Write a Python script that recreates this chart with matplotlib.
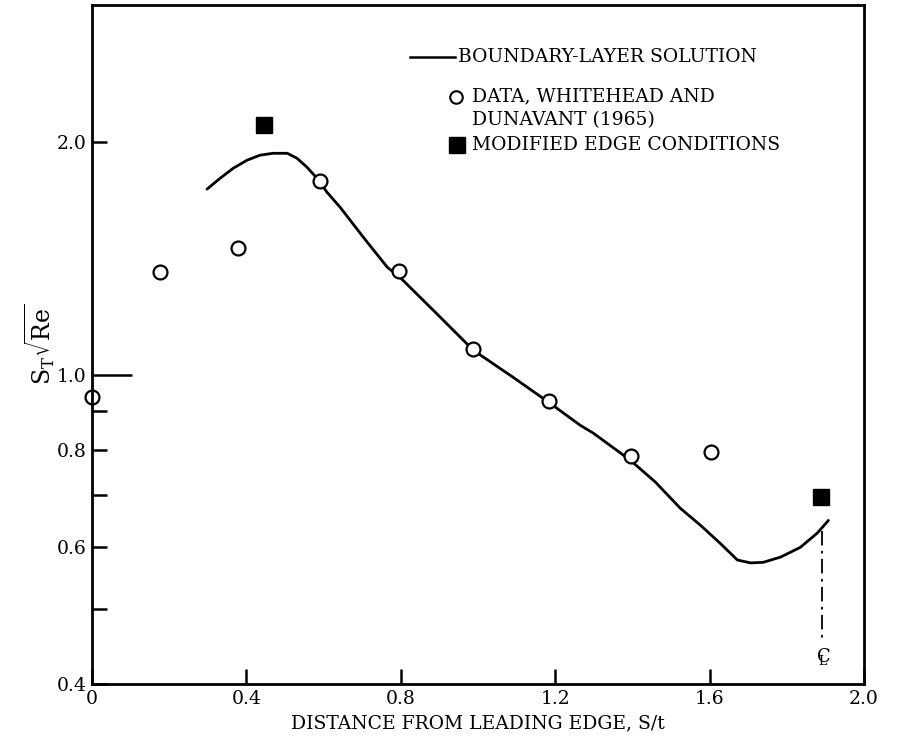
import numpy as np
import matplotlib
matplotlib.use("Agg")
import matplotlib.pyplot as plt

plt.rcParams["font.family"] = ["DejaVu Serif"]
plt.rcParams["mathtext.fontset"] = "dejavuserif"

# boundary-layer solution
curve_x = [0.298, 0.332, 0.366, 0.402, 0.435, 0.469, 0.506, 0.531, 0.557, 0.583,
           0.609, 0.643, 0.703, 0.765, 0.798, 0.884, 0.988, 1.091, 1.187, 1.265,
           1.299, 1.395, 1.460, 1.524, 1.576, 1.628, 1.672, 1.706, 1.739, 1.784,
           1.835, 1.879, 1.908]
curve_y = [1.737, 1.794, 1.848, 1.893, 1.921, 1.932, 1.932, 1.904, 1.854, 1.794,
           1.721, 1.646, 1.506, 1.378, 1.337, 1.213, 1.077, 0.994, 0.920, 0.862,
           0.842, 0.777, 0.728, 0.674, 0.641, 0.607, 0.578, 0.573, 0.574, 0.583,
           0.600, 0.626, 0.650]

# data, Whitehead and Dunavant (1965)
data_x = [0.0, 0.176, 0.379, 0.591, 0.796, 0.988, 1.185, 1.396, 1.603]
data_y = [0.937, 1.358, 1.458, 1.778, 1.362, 1.080, 0.926, 0.786, 0.796]

# modified edge conditions
mod_x = [0.446, 1.888]
mod_y = [2.10, 0.696]

cl_x = 1.890
y_ticks = [0.4, 0.5, 0.6, 0.7, 0.8, 0.9, 1.0, 2.0]
y_labels = ["0.4", "", "0.6", "", "0.8", "", "1.0", "2.0"]
x_ticks = [0, 0.4, 0.8, 1.2, 1.6, 2.0]
x_labels = ["0", "0.4", "0.8", "1.2", "1.6", "2.0"]

fs = 13.5

fig = plt.figure(figsize=(8.98, 7.44), dpi=100)
ax = fig.add_axes([0.1024, 0.0806, 0.8597, 0.9127])

ax.plot(curve_x, curve_y, color="black", lw=2.0, solid_capstyle="round",
        solid_joinstyle="round")
ax.plot(data_x, data_y, "o", ms=10, mfc="white", mec="black", mew=1.6, clip_on=False)
ax.plot(mod_x, mod_y, "s", ms=12, color="black")
ax.plot([cl_x, cl_x], [0.63, 0.455], color="black", lw=1.3, ls=(0, (8, 3, 1.5, 3)))
# centre-line symbol
ax.text(cl_x + 0.004, 0.434, r"$\mathrm{C}\!\!\!\!_{\mathrm{L}}$", ha="center",
        va="center", fontsize=13)

ax.set_yscale("log")
ax.set_xlim(0, 2.0)
ax.set_ylim(0.4, 3.0)
ax.set_yticks(y_ticks)
ax.set_yticklabels(y_labels)
ax.yaxis.set_minor_locator(matplotlib.ticker.NullLocator())
ax.set_xticks(x_ticks)
ax.set_xticklabels(x_labels)
ax.tick_params(direction="in", length=11, width=1.8, labelsize=fs, pad=4)
ax.yaxis.get_major_ticks()[6].tick1line.set_markersize(29)

for sp in ax.spines.values():
    sp.set_linewidth(2.0)

ax.set_xlabel("DISTANCE FROM LEADING EDGE, S/t", fontsize=fs, labelpad=5)
ax.set_ylabel(r"$\mathrm{S_T}\sqrt{\mathrm{Re}}$", fontsize=17, labelpad=0)

# legend drawn by hand
ax.plot([0.825, 0.94], [2.57, 2.57], color="black", lw=1.8)
ax.text(0.947, 2.57, "BOUNDARY-LAYER SOLUTION", va="center", fontsize=fs)
ax.plot([0.943], [2.285], "o", ms=9, mfc="white", mec="black", mew=1.5)
ax.text(0.985, 2.285, "DATA, WHITEHEAD AND", va="center", fontsize=fs)
ax.text(0.985, 2.135, "DUNAVANT (1965)", va="center", fontsize=fs)
ax.plot([0.946], [1.98], "s", ms=11, color="black")
ax.text(0.985, 1.98, "MODIFIED EDGE CONDITIONS", va="center", fontsize=fs)

fig.savefig("out.png", dpi=100)
